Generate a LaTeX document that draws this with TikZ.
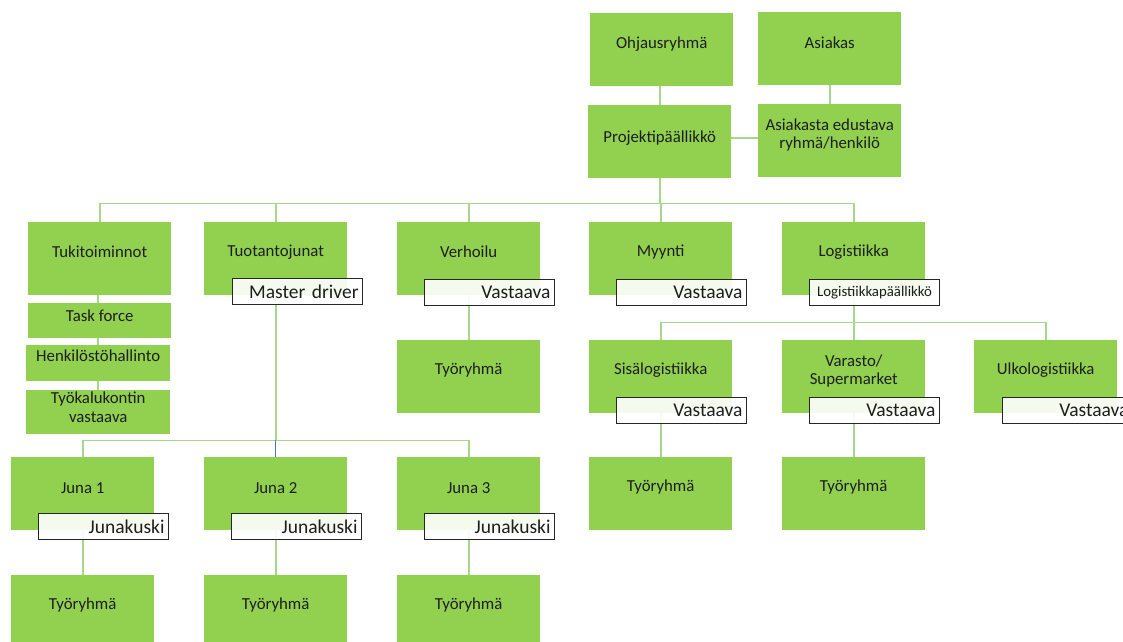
\documentclass[tikz,border=0pt]{standalone}
\usepackage{fontspec}
\setmainfont{Carlito}
\usetikzlibrary{backgrounds}

\definecolor{boxgreen}{HTML}{92D050}
\definecolor{linkgreen}{HTML}{A9D78A}
\definecolor{linkblue}{HTML}{4A78C8}
\definecolor{ink}{HTML}{1E1E1E}
\definecolor{tagedge}{HTML}{262626}

\tikzset{
  unit/.style={fill=boxgreen, inner sep=0pt, anchor=north west,
    minimum width=143pt, minimum height=73pt},
  boxtext/.style={anchor=center, inner sep=0pt, align=center, text=ink,
    font=\fontsize{16.8}{18.5}\selectfont},
  tag/.style={draw=tagedge, line width=1.1pt, fill=white, fill opacity=0.9,
    text opacity=1, anchor=north west, text width=122pt, align=right,
    inner xsep=4pt, inner ysep=0pt, minimum height=26pt, text=ink,
    font=\fontsize{19.5}{21}\selectfont},
  smalltag/.style={tag, align=center, font=\fontsize{14.8}{16}\selectfont},
  link/.style={draw=linkgreen, line width=1.8pt},
}

\begin{document}
\begin{tikzpicture}[x=1pt, y=-1pt]
\useasboundingbox (0,0) rectangle (1123,641);

% top management
\node[unit, label={[boxtext,yshift=-31pt]north:Ohjausryhmä}] (ohj) at (590,13) {};
\node[unit, label={[boxtext,yshift=-31pt]north:Asiakas}] (asi) at (758,12) {};
\node[unit, label={[boxtext,yshift=-33pt]north:Projektipäällikkö}] (proj) at (588,105) {};
\node[unit, label={[boxtext,yshift=-31pt]north:{Asiakasta edustava\\ryhmä/henkilö}}] (asr) at (758,104) {};

% second level
\node[unit, label={[boxtext,yshift=-30pt]north:Tukitoiminnot}] (tuk) at (28,222) {};
\node[unit, label={[boxtext,yshift=-30pt]north:Tuotantojunat}] (tuo) at (204,222) {};
\node[unit, label={[boxtext,yshift=-30pt]north:Verhoilu}] (ver) at (397,222) {};
\node[unit, label={[boxtext,yshift=-30pt]north:Myynti}] (myy) at (589,222) {};
\node[unit, label={[boxtext,yshift=-30pt]north:Logistiikka}] (log) at (782,222) {};

% support functions
\node[unit, minimum height=35pt, label={[boxtext,yshift=-13pt]north:Task force}] (tf) at (28,303) {};
\node[unit, minimum width=144pt, minimum height=36pt, label={[boxtext,yshift=-11pt]north:Henkilöstöhallinto}] (hen) at (26,345) {};
\node[unit, minimum width=144pt, minimum height=44pt, label={[boxtext,yshift=-17pt]north:{Työkalukontin\\vastaava}}] (tyk) at (26,390) {};

% third level
\node[unit, label={[boxtext,yshift=-30pt]north:Työryhmä}] (verT) at (397,340) {};
\node[unit, label={[boxtext,yshift=-30pt]north:Sisälogistiikka}] (sis) at (589,340) {};
\node[unit, label={[boxtext,yshift=-31pt]north:{Varasto/\\Supermarket}}] (var) at (782,340) {};
\node[unit, label={[boxtext,yshift=-30pt]north:Ulkologistiikka}] (ulk) at (974,340) {};

% trains and teams
\node[unit, label={[boxtext,yshift=-31pt]north:Juna 1}] (j1) at (11,457) {};
\node[unit, label={[boxtext,yshift=-31pt]north:Juna 2}] (j2) at (204,457) {};
\node[unit, label={[boxtext,yshift=-31pt]north:Juna 3}] (j3) at (397,457) {};
\node[unit, label={[boxtext,yshift=-30pt]north:Työryhmä}] (sisT) at (589,457) {};
\node[unit, label={[boxtext,yshift=-30pt]north:Työryhmä}] (varT) at (782,457) {};
\node[unit, label={[boxtext,yshift=-30pt]north:Työryhmä}] (t1) at (11,575) {};
\node[unit, label={[boxtext,yshift=-30pt]north:Työryhmä}] (t2) at (204,575) {};
\node[unit, label={[boxtext,yshift=-30pt]north:Työryhmä}] (t3) at (397,575) {};

% responsible-person tags
\node[tag] (tuoR) at ([shift={(28,56)}]tuo.north west) {Master driver};
\node[tag] (verR) at ([shift={(27,57)}]ver.north west) {Vastaava};
\node[tag] (myyR) at ([shift={(27,57)}]myy.north west) {Vastaava};
\node[smalltag] (logR) at ([shift={(27,57)}]log.north west) {Logistiikkapäällikkö};
\node[tag] (sisR) at ([shift={(27,57)}]sis.north west) {Vastaava};
\node[tag] (varR) at ([shift={(27,57)}]var.north west) {Vastaava};
\node[tag] (ulkR) at ([shift={(28,57)}]ulk.north west) {Vastaava};
\node[tag] (j1R) at ([shift={(27,56)}]j1.north west) {Junakuski};
\node[tag] (j2R) at ([shift={(27,56)}]j2.north west) {Junakuski};
\node[tag] (j3R) at ([shift={(27,56)}]j3.north west) {Junakuski};

% connectors
\begin{scope}[on background layer]
  \fill[white] (0,0) rectangle (1123,641);
  \draw[link] (proj.north) -- (proj.north |- ohj.south);
  \draw[link] (asr.north) -- (asr.north |- asi.south);
  \draw[link] ([yshift=4pt]proj.east) -- ([yshift=4pt]proj.east -| asr.west);
  \draw[link] (proj.south) -- ++(0,25) coordinate (hub);
  \draw[link] (hub) -| (tuk.north);
  \draw[link] (hub) -| (tuo.north);
  \draw[link] (hub) -| (ver.north);
  \draw[link] (hub) -| (myy.north);
  \draw[link] (hub) -| (log.north);
  \draw[link] ([xshift=-1.5pt]tuk.south) -- ([xshift=-1.5pt]tuk.south |- tyk.north);
  \draw[link] (ver.south) -- (verT.north);
  \draw[link] (tuo.south) -- ++(0,145) coordinate (trainbus);
  \draw[link] (trainbus) -| (j1.north);
  \draw[link] (trainbus) -| (j3.north);
  \draw[draw=linkblue, line width=1.5pt] (trainbus) -- (j2.north);
  \draw[link] (j1.south) -- (t1.north);
  \draw[link] (j2.south) -- (t2.north);
  \draw[link] (j3.south) -- (t3.north);
  \draw[link] (log.south) -- ++(0,27) coordinate (logbus);
  \draw[link] (logbus) -| (sis.north);
  \draw[link] (logbus) -| (ulk.north);
  \draw[link] (logbus) -- (var.north);
  \draw[link] (sis.south) -- (sisT.north);
  \draw[link] (var.south) -- (varT.north);
\end{scope}
\end{tikzpicture}
\end{document}
